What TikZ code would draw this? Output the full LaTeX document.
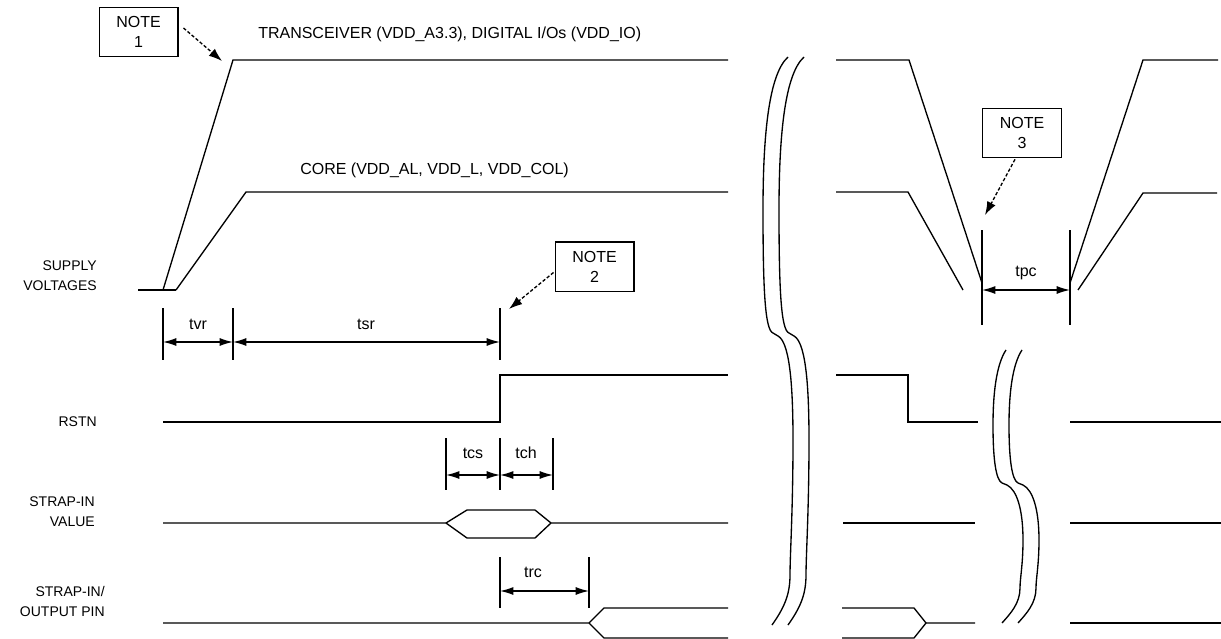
\documentclass[tikz,border=0pt]{standalone}
\usepackage{fontspec}
\setmainfont{Liberation Sans}
\usetikzlibrary{arrows.meta,calc}
\newcommand{\lblfont}{\fontsize{12}{15}\selectfont}
\newcommand{\sigfont}{\fontsize{10.5}{15}\selectfont}
\begin{document}
\begin{tikzpicture}[x=0.75pt,y=-0.75pt,
 wave/.style={line width=1pt, line join=miter},
 tick/.style={line width=1pt},
 dimarrow/.style={line width=1pt,{Latex[length=10pt,width=6pt]}-{Latex[length=10pt,width=6pt]}},
 notebox/.style={draw,line width=1pt,align=center,minimum width=59pt,minimum height=37pt,inner sep=0pt,font=\lblfont},
 notearrow/.style={line width=1pt,dash pattern=on 2.5pt off 1.5pt,-{Latex[length=10pt,width=7pt]}},
 lbl/.style={font=\lblfont,inner sep=0pt},
 sig/.style={font=\sigfont,align=right,anchor=east,inner sep=0pt},
 brk/.style={line width=1pt}]
\useasboundingbox (0,0) rectangle (1221,639);

% ---------- signal names ----------
\node[sig] (lsup) at (97,276) {SUPPLY\\VOLTAGES};
\node[sig] (lrst) at (97,422) {RSTN};
\node[sig] (lval) at (95,512) {STRAP-IN\\VALUE};
\node[sig] (lout) at (105,601) {STRAP-IN/\\OUTPUT PIN};

% ---------- rail labels ----------
\node[lbl,anchor=west] (ltr) at (258,34) {TRANSCEIVER (VDD\_A3.3), DIGITAL I/Os (VDD\_IO)};
\node[lbl,anchor=west] (lcore) at (300,170) {CORE (VDD\_AL, VDD\_L, VDD\_COL)};

% ---------- supply waveforms ----------
\draw[wave] (138,290) -- (176,290);
\draw[wave] (163,290) -- (233,60) -- (728,60);
\draw[wave] (176,290) -- (246,192) -- (728,192);
\draw[wave] (836,60) -- (909,60) -- (982,283);
\draw[wave] (836,192) -- (908,192) -- (963,290);
\draw[wave] (1070,283) -- (1143,60) -- (1218,60);
\draw[wave] (1078,290) -- (1143,193) -- (1217,193);

% ---------- RSTN ----------
\draw[wave] (163,422) -- (500,422) -- (500,375) -- (728,375);
\draw[wave] (836,375) -- (908,375) -- (908,422) -- (978,422);
\draw[wave] (1070,422) -- (1221,422);

% ---------- STRAP-IN VALUE ----------
\draw[wave] (163,523) -- (446,523) -- (467,510) -- (535,510) -- (551,523) -- (728,523);
\draw[wave] (446,523) -- (467,538) -- (535,538) -- (551,523);
\draw[wave] (843,523) -- (975,523);
\draw[wave] (1070,523) -- (1221,523);

% ---------- STRAP-IN / OUTPUT PIN ----------
\draw[wave] (163,623) -- (589,623) -- (604,608) -- (728,608);
\draw[wave] (589,623) -- (604,638) -- (728,638);
\draw[wave] (842,608) -- (914,608) -- (926,623) -- (975,623);
\draw[wave] (842,638) -- (914,638) -- (926,623);
\draw[wave] (1070,623) -- (1221,623);

% ---------- timing ticks ----------
\coordinate (a1) at (163,342); \coordinate (a2) at (233,342); \coordinate (a3) at (500,342);
\draw[tick] (163,308) -- (163,360);
\draw[tick] (233,308) -- (233,360);
\draw[tick] (500,308) -- (500,360);
\draw[dimarrow] (a1) -- (a2);
\draw[dimarrow] (a2) -- (a3);
\node[lbl] (tvr) at (198,324) {tvr};
\node[lbl] (tsr) at (366,324) {tsr};

\coordinate (b1) at (446,475); \coordinate (b2) at (500,475); \coordinate (b3) at (553,475);
\draw[tick] (446,438) -- (446,490);
\draw[tick] (500,438) -- (500,490);
\draw[tick] (553,438) -- (553,490);
\draw[dimarrow] (b1) -- (b2);
\draw[dimarrow] (b2) -- (b3);
\node[lbl] (tcs) at (473,453) {tcs};
\node[lbl] (tch) at (526,453) {tch};

\coordinate (c1) at (500,591); \coordinate (c2) at (589,591);
\draw[tick] (500,557) -- (500,608);
\draw[tick] (589,557) -- (589,608);
\draw[dimarrow] (c1) -- (c2);
\node[lbl] (trc) at (533,572) {trc};

\coordinate (d1) at (982,290); \coordinate (d2) at (1070,290);
\draw[tick] (982,230) -- (982,325);
\draw[tick] (1070,230) -- (1070,325);
\draw[dimarrow] (d1) -- (d2);
\node[lbl] (tpc) at (1026,273) {tpc};

% ---------- notes ----------
\node[notebox] (n1) at (138.5,32) {NOTE\\1};
\node[notebox] (n2) at (594.5,266.5) {NOTE\\2};
\node[notebox] (n3) at (1022,133) {NOTE\\3};
\coordinate (t1) at (222,61);
\coordinate (t2) at (509,309);
\coordinate (t3) at (985,215);
\draw[notearrow] ($(n1.east)+(5,-4)$) -- (t1);
\draw[notearrow] ($(n2.west)+(-1,6)$) -- (t2);
\draw[notearrow] ($(n3.south)+(-7,1)$) -- (t3);

% ---------- big break ----------
\foreach \s in {0,16}{
\begin{scope}[xshift=\s*0.75pt]
\draw[brk] (788,57) .. controls (768,75) and (763,140) .. (763,210)
  .. controls (763,290) and (765,330) .. (773,333)
  -- (778,336)
  .. controls (789,342) and (793,380) .. (793,440)
  .. controls (793,510) and (790,555) .. (790,575)
  .. controls (790,595) and (784,608) .. (772,625);
\end{scope}}

% ---------- small break ----------
\foreach \s in {0,16}{
\begin{scope}[xshift=\s*0.75pt]
\draw[brk] (1006,350) .. controls (996,365) and (993,395) .. (993,425)
  .. controls (993,460) and (996,480) .. (1002,483)
  -- (1007,485)
  .. controls (1017,490) and (1023,510) .. (1023,540)
  .. controls (1023,565) and (1020,578) .. (1020,588)
  .. controls (1020,603) and (1011,613) .. (1002,623);
\end{scope}}
\end{tikzpicture}
\end{document}
